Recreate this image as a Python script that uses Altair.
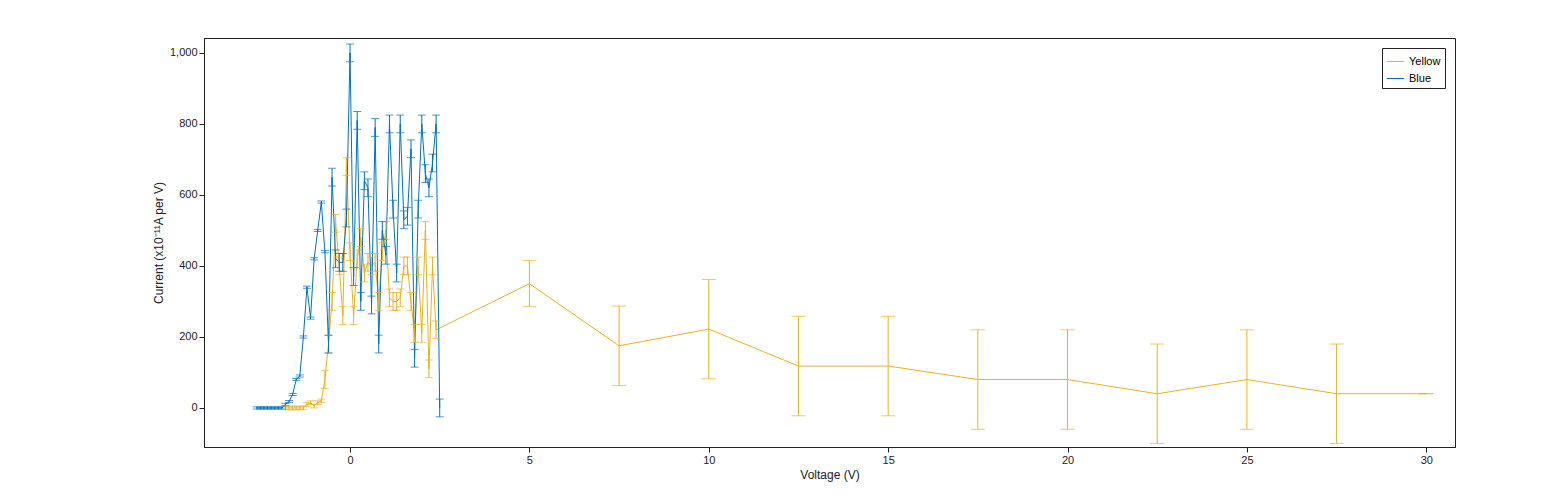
import altair as alt
import pandas as pd

blue_v = [round(-2.6 + 0.1 * i, 1) for i in range(52)]
blue_y = [0, 0, 0, 0, 0, 0, 0, 0,
          10, 18, 38, 80, 90, 200, 340, 253, 420, 500, 580, 440, 180, 650, 420, 410, 410, 535,
          1000, 370, 810, 300, 640, 620, 290, 790, 180, 500, 430, 800, 560, 380, 800, 530, 540,
          730, 140, 560, 800, 660, 620, 690, 800, 0]
blue_e = [3] * 20 + [25] * 32

yel_v = [round(-1.8 + 0.1 * i, 1) for i in range(43)] + [5, 7.5, 10, 12.5, 15, 17.5, 20, 22.5, 25, 27.5, 30]
yel_y = [0, 0, 0, 0, 0, 0, 10, 15, 5, 15, 20, 80, 180, 300, 520, 400, 260, 680, 440, 260,
         420, 480, 380, 410, 400, 410, 300, 440, 500, 310, 300, 300, 310, 400, 400, 300, 210,
         400, 210, 500, 110, 400, 220, 350,
         175, 222, 118, 118, 80, 80, 40, 80, 40, 40, 0]
yel_e = [5] * 11 + [25] * 32 + [65, 112, 140, 140, 140, 140, 140, 140, 140, 140, 0]

rows = []
for v, y, e in zip(yel_v, yel_y, yel_e):
    rows.append(dict(V=v, I=y, lo=y - e, hi=y + e, s="Yellow", o=0, big=v >= 5))
for v, y, e in zip(blue_v, blue_y, blue_e):
    rows.append(dict(V=v, I=y, lo=y - e, hi=y + e, s="Blue", o=1, big=False))
df = pd.DataFrame(rows)

color = alt.Color("s:N", scale=alt.Scale(domain=["Yellow", "Blue"], range=["#EDB120", "#0072BD"]),
                  legend=alt.Legend(title=None, orient="top-right", symbolType="stroke",
                                    symbolStrokeWidth=1, symbolSize=300, fillColor="white",
                                    strokeColor="#222", padding=4, labelFontSize=11,
                                    offset=10, labelFont="Liberation Sans"))
x = alt.X("V:Q", scale=alt.Scale(domain=[-4.07, 30.8], nice=False),
          axis=alt.Axis(values=[0, 5, 10, 15, 20, 25, 30], title="Voltage (V)", grid=False))
y = alt.Y("I:Q", scale=alt.Scale(domain=[-110, 1042], nice=False),
          axis=alt.Axis(values=[0, 200, 400, 600, 800, 1000], title="Current (x10⁻¹¹A per V)", grid=False))

base = alt.Chart(df)
line = base.mark_line(strokeWidth=1).encode(x=x, y=y, color=color, detail="s:N", order="V:Q")
bars = base.mark_rule(strokeWidth=1).encode(x="V:Q", y="lo:Q", y2="hi:Q", color=alt.Color("s:N", legend=None))
caps_lo = base.mark_tick(orient="horizontal", thickness=1).encode(
    x="V:Q", y="lo:Q", color=alt.Color("s:N", legend=None),
    size=alt.condition("datum.big", alt.value(14), alt.value(8)))
caps_hi = base.mark_tick(orient="horizontal", thickness=1).encode(
    x="V:Q", y="hi:Q", color=alt.Color("s:N", legend=None),
    size=alt.condition("datum.big", alt.value(14), alt.value(8)))

chart = alt.layer(line, bars, caps_lo, caps_hi).properties(
    width=1251, height=409, autosize=alt.AutoSizeParams(type="none"),
    padding={"left": 196, "top": 30, "right": 96, "bottom": 50}
).configure_view(stroke="#222", strokeWidth=1).configure_axis(
    labelFont="Liberation Sans", titleFont="Liberation Sans", labelFontSize=11, titleFontSize=12,
    titleFontWeight="normal", labelColor="#222", titleColor="#222", domainColor="#222",
    tickColor="#222", tickSize=5
)
chart.save("out.html", embed_options={"renderer": "svg", "actions": False})
